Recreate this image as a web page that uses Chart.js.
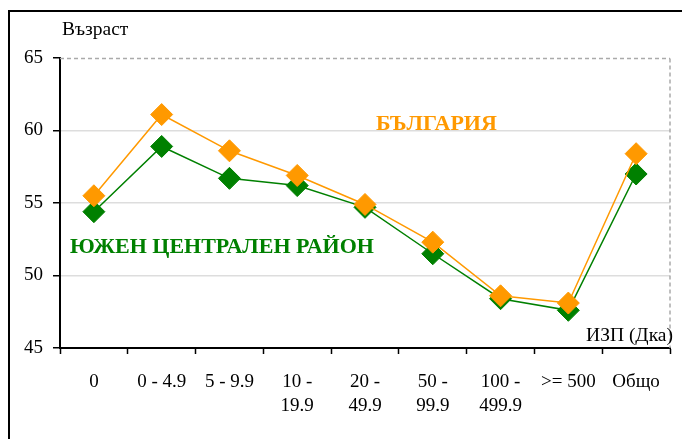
<!DOCTYPE html>
<html><head><meta charset="utf-8">
<script src="https://cdn.jsdelivr.net/npm/chart.js@4.4.1/dist/chart.umd.min.js"></script>
<style>
html,body{margin:0;padding:0;background:#fff;}
#wrap{position:relative;width:682px;height:439px;}
#frame{position:absolute;left:8px;top:10px;width:700px;height:460px;border-left:2px solid #000;border-top:2px solid #000;box-sizing:border-box;pointer-events:none;}
canvas{position:absolute;left:0;top:0;}
</style></head>
<body><div id="wrap"><canvas id="c" width="682" height="439"></canvas><div id="frame"></div></div>
<script>
const categories = [['0'], ['0 - 4.9'], ['5 - 9.9'], ['10 -', '19.9'], ['20 -', '49.9'], ['50 -', '99.9'], ['100 -', '499.9'], ['>= 500'], ['Общо']];
const bulgaria = [55.5, 61.1, 58.6, 56.9, 54.9, 52.3, 48.6, 48.1, 58.4];
const southCentral = [54.4, 58.9, 56.7, 56.2, 54.7, 51.5, 48.4, 47.6, 57.0];
const yTicks = [45, 50, 55, 60, 65];
const yTitle = 'Възраст';
const xTitle = 'ИЗП (Дка)';
const labelBG = 'БЪЛГАРИЯ';
const labelSC = 'ЮЖЕН ЦЕНТРАЛЕН РАЙОН';

const ORANGE = '#FF9900';
const GREEN = '#008000';
const FONT = '"Liberation Serif", "Times New Roman", serif';

const decor = {
  id: 'decor',
  beforeDatasetsDraw(chart) {
    const {ctx, chartArea: a, scales: {y}} = chart;
    ctx.save();
    ctx.strokeStyle = '#aaaaaa';
    ctx.lineWidth = 1.5;
    ctx.setLineDash([4, 3]);
    ctx.beginPath();
    const yt = Math.round(y.getPixelForValue(65)) + 0.5;
    ctx.moveTo(a.left, yt); ctx.lineTo(a.right, yt);
    ctx.moveTo(a.right, yt); ctx.lineTo(a.right, a.bottom);
    ctx.stroke();
    ctx.restore();
  },
  afterDraw(chart) {
    const {ctx, chartArea: a} = chart;
    ctx.save();
    ctx.fillStyle = '#000';
    ctx.font = '19.5px ' + FONT;
    ctx.textBaseline = 'middle';
    ctx.textAlign = 'left';
    ctx.fillText(yTitle, a.left + 2, 30);
    ctx.textAlign = 'right';
    ctx.fillText(xTitle, a.right + 3, 336);
    ctx.font = 'bold 22px ' + FONT;
    ctx.textAlign = 'left';
    ctx.fillStyle = ORANGE;
    ctx.fillText(labelBG, 376, 124);
    ctx.fillStyle = GREEN;
    ctx.fillText(labelSC, 70, 247);
    ctx.restore();
  }
};

new Chart(document.getElementById('c'), {
  type: 'line',
  data: {
    labels: categories,
    datasets: [
      { label: labelBG, data: bulgaria, borderColor: ORANGE, backgroundColor: ORANGE,
        borderWidth: 1.5, pointStyle: 'rectRot', pointRadius: 11, pointBorderWidth: 1, tension: 0 },
      { label: labelSC, data: southCentral, borderColor: GREEN, backgroundColor: GREEN,
        borderWidth: 1.5, pointStyle: 'rectRot', pointRadius: 11, pointBorderWidth: 1, tension: 0 }
    ]
  },
  options: {
    responsive: false,
    animation: false,
    layout: { padding: { left: 0, top: 58, right: 10, bottom: 0 } },
    plugins: { legend: { display: false }, tooltip: { enabled: false } },
    scales: {
      x: {
        offset: true,
        grid: { display: true, offset: true, drawOnChartArea: false, drawTicks: true, tickLength: 6, tickColor: '#000', tickWidth: 1.5 },
        border: { color: '#000', width: 2 },
        ticks: { color: '#000', font: { family: FONT, size: 19, lineHeight: 1.27 }, padding: 16, maxRotation: 0, autoSkip: false },
        afterFit(s) { s.height = 91; }
      },
      y: {
        min: 45, max: 65,
        afterBuildTicks(s) { s.ticks = yTicks.map(v => ({ value: v })); },
        grid: { color: ctx => (ctx.tick && ctx.tick.value > 45 && ctx.tick.value < 65) ? '#dddddd' : 'rgba(0,0,0,0)', lineWidth: 1.5, drawTicks: true, tickLength: 7, tickColor: '#000', tickWidth: 1.5 },
        border: { color: '#000', width: 2 },
        ticks: { color: '#000', font: { family: FONT, size: 19 }, padding: 10 },
        afterFit(s) { s.width = 60; }
      }
    }
  },
  plugins: [decor]
});
</script>
</body></html>
